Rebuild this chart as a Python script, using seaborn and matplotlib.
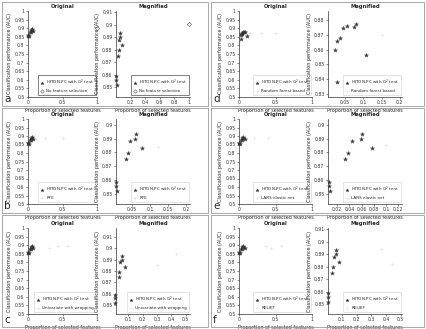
import numpy as np
import pandas as pd
import matplotlib
matplotlib.use("Agg")
import matplotlib.pyplot as plt
import seaborn as sns
from matplotlib.patches import Rectangle

sns.set_style("white")
plt.rcParams["font.family"] = ["DejaVu Sans"]

# HITON-PC with G^2 test (same runs in a, b, c, e, f)
hiton_x = [0.006, 0.006, 0.008, 0.033, 0.037, 0.044, 0.059, 0.060, 0.077]
hiton_y = [0.8585, 0.856, 0.852, 0.8751, 0.8794, 0.888, 0.890, 0.8935, 0.8834]

# HITON-PC in panel d
hiton_d_x = [0.043, 0.056, 0.073, 0.081, 0.036, 0.027, 0.023, 0.108, 0.027]
hiton_d_y = [0.8743, 0.876, 0.8755, 0.877, 0.8675, 0.8655, 0.860, 0.856, 0.838]

# comparison methods (very faint in the figure)
nofs_x, nofs_y = [1.0], [0.9008]
rfe_x, rfe_y = [0.12, 0.25, 0.5], [0.884, 0.889, 0.886]
univ_x, univ_y = [0.30, 0.43, 0.58], [0.885, 0.895, 0.897]
rf_x, rf_y = [0.15, 0.30, 0.50], [0.870, 0.872, 0.873]
lars_x, lars_y = [0.10, 0.20, 0.40], [0.885, 0.889, 0.890]
relief_x, relief_y = [0.37, 0.44, 0.58], [0.894, 0.882, 0.897]

panels = [
    # letter, row, col, hx, hy, other label, ox, oy, mag xlim, mag xticks, mag ylim, mag yticks
    ("a", 0, 0, hiton_x, hiton_y, "No feature selection", nofs_x, nofs_y,
     (0.0, 1.02), [0.2, 0.4, 0.6, 0.8, 1], (0.842, 0.911), [0.85, 0.86, 0.87, 0.88, 0.89, 0.9, 0.91]),
    ("b", 1, 0, hiton_x, hiton_y, "RFE", rfe_x, rfe_y,
     (0.005, 0.21), [0.05, 0.1, 0.15, 0.2], (0.843, 0.904), [0.85, 0.86, 0.87, 0.88, 0.89, 0.9]),
    ("c", 2, 0, hiton_x, hiton_y, "Univariate with wrapping", univ_x, univ_y,
     (0.015, 0.53), [0.1, 0.2, 0.3, 0.4, 0.5], (0.842, 0.918), [0.85, 0.86, 0.87, 0.88, 0.89, 0.9, 0.91]),
    ("d", 0, 1, hiton_d_x, hiton_d_y, "Random forest based", rf_x, rf_y,
     (0.003, 0.206), [0.05, 0.1, 0.15, 0.2], (0.828, 0.886), [0.83, 0.84, 0.85, 0.86, 0.87, 0.88]),
    ("e", 1, 1, hiton_x, hiton_y, "LARS elastic net", lars_x, lars_y,
     (0.005, 0.126), [0.02, 0.04, 0.06, 0.08, 0.1, 0.12], (0.843, 0.904), [0.85, 0.86, 0.87, 0.88, 0.89, 0.9]),
    ("f", 2, 1, hiton_x, hiton_y, "RELIEF", relief_x, relief_y,
     (0.005, 0.51), [0.1, 0.2, 0.3, 0.4, 0.5], (0.842, 0.911), [0.85, 0.86, 0.87, 0.88, 0.89, 0.9, 0.91]),
]

W, H = 426, 329
fig = plt.figure(figsize=(W / 100, H / 100), dpi=100)

row_box = [(2, 106), (108, 213), (215, 327)]
col_box = [(2, 208), (211, 424)]
row_ax = [(11, 97), (119, 204), (228, 314)]
col_orig = [(28, 97), (239, 312)]
col_mag = [(116, 190), (328, 402)]


def px_axes(x0, x1, y0, y1):
    return fig.add_axes([x0 / W, 1 - y1 / H, (x1 - x0) / W, (y1 - y0) / H])


def style(ax, title):
    sns.despine(ax=ax)
    for s in ["left", "bottom"]:
        ax.spines[s].set_linewidth(0.5)
        ax.spines[s].set_color("#333333")
    ax.tick_params(axis="both", labelsize=3.3, length=1.5, width=0.4, pad=1,
                   direction="out", left=True, bottom=True, colors="#333333")
    ax.set_title(title, fontsize=3.8, fontweight="bold", pad=2)
    ax.set_xlabel("Proportion of selected features", fontsize=3.5, labelpad=1.5)
    ax.set_ylabel("Classification performance (AUC)", fontsize=3.5, labelpad=1.5)


for letter, r, c, hx, hy, olabel, ox, oy, mxl, mxt, myl, myt in panels:
    bx0, bx1 = col_box[c]
    by0, by1 = row_box[r]
    fig.add_artist(Rectangle((bx0 / W, 1 - by1 / H), (bx1 - bx0) / W, (by1 - by0) / H,
                             transform=fig.transFigure, fill=False, ec="#9a9a9a", lw=0.6))
    fig.text((bx0 + 2) / W, 1 - (by1 - 2) / H, letter, fontsize=7.5, ha="left", va="bottom")

    hdf = pd.DataFrame({"x": hx, "y": hy})
    odf = pd.DataFrame({"x": ox, "y": oy})
    ya0, ya1 = row_ax[r]

    for kind in ["orig", "mag"]:
        xa0, xa1 = col_orig[c] if kind == "orig" else col_mag[c]
        ax = px_axes(xa0, xa1, ya0, ya1)
        sns.scatterplot(data=hdf, x="x", y="y", ax=ax, marker="*", s=10, color="#333333",
                        edgecolor="#333333", linewidth=0.2, label="HITON-PC with G$^2$ test",
                        clip_on=False, zorder=3)
        if letter == "a":
            sns.scatterplot(data=odf, x="x", y="y", ax=ax, marker="D", s=5, facecolor="white",
                            edgecolor="#555555", linewidth=0.4, label=olabel, clip_on=False)
        else:
            sns.scatterplot(data=odf, x="x", y="y", ax=ax, marker="+", s=10, color="#e4e4e4",
                            linewidth=0.4, label=olabel)
        if kind == "orig":
            ax.set_xlim(0, 1)
            ax.set_xticks([0, 0.5, 1])
            ax.set_xticklabels(["0", "0.5", "1"])
            ax.set_ylim(0.5, 1.0)
            yt = [0.5, 0.55, 0.6, 0.65, 0.7, 0.75, 0.8, 0.85, 0.9, 0.95, 1]
            ax.set_yticks(yt)
            ax.set_yticklabels([f"{t:g}" for t in yt])
            style(ax, "Original")
        else:
            ax.set_xlim(*mxl)
            ax.set_xticks(mxt)
            ax.set_xticklabels([f"{t:g}" for t in mxt])
            ax.set_ylim(*myl)
            ax.set_yticks(myt)
            ax.set_yticklabels([f"{t:g}" for t in myt])
            style(ax, "Magnified")
        leg = ax.legend(loc="lower right", bbox_to_anchor=(1.0, 0.015), fontsize=3.0,
                        frameon=True, fancybox=False, borderpad=0.5, handletextpad=0.5,
                        labelspacing=0.5, handlelength=1.0, borderaxespad=0.2, markerscale=0.8)
        leg.get_frame().set_linewidth(0.5)
        leg.get_frame().set_edgecolor("#222222" if letter == "a" else "#d0d0d0")
        leg.set_zorder(2)

fig.savefig("out.png", dpi=100)
